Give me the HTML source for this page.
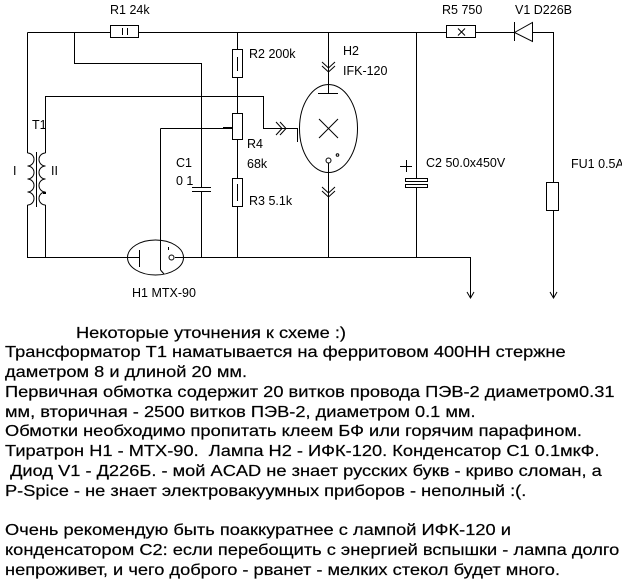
<!DOCTYPE html>
<html><head><meta charset="utf-8">
<style>
html,body{margin:0;padding:0;background:#fff;}
body{width:622px;height:586px;position:relative;overflow:hidden;}
svg{position:absolute;left:0;top:0;}
.t{position:absolute;left:5px;top:323.5px;font-family:"Liberation Sans","Noto Sans CJK SC",sans-serif;font-size:16px;line-height:19.8px;white-space:pre;color:#000;transform:scaleX(1.14);transform-origin:0 0;-webkit-text-stroke:0.2px #000;}
</style></head>
<body>
<svg width="622" height="310" viewBox="0 0 622 310" xmlns="http://www.w3.org/2000/svg">
<g fill="none" stroke="#000" stroke-width="1" shape-rendering="crispEdges">
<path d="M27.5 32.5 H110.5"/>
<rect x="110.5" y="25.5" width="28" height="12"/>
<path d="M122.5 28 V35 M127.5 28 V35"/>
<path d="M138.5 32.5 H446.5"/>
<rect x="446.5" y="25.5" width="29" height="12"/>
<path d="M475.5 32.5 H514.5"/>
<path d="M514.5 22 V41"/>
<path d="M532.5 32.5 H553.5 V182.5"/>
<rect x="546.5" y="182.5" width="12" height="28"/>
<path d="M553.5 210.5 V298"/>
<path d="M27.5 32.5 V153"/>
<path d="M27.5 205 V257.5 H139.5"/>
<path d="M139.5 250 V267"/>
<path d="M45.5 257.5 V205"/>
<path d="M45.5 153 V96.5 H263.5 V128.5 H297.5 V142"/>
<path d="M36.5 152 V207"/>
<path d="M74.5 32.5 V63.5 H201.5 V187.5"/>
<path d="M192 187.5 H211 M192 191.5 H211"/>
<path d="M201.5 191.5 V257.5"/>
<path d="M237.5 32.5 V49.5"/>
<rect x="232.5" y="49.5" width="10" height="28"/>
<path d="M237.5 57 V71"/>
<path d="M237.5 77.5 V113.5"/>
<rect x="232.5" y="113.5" width="10" height="26"/>
<path d="M237.5 139.5 V178.5"/>
<rect x="232.5" y="178.5" width="10" height="28"/>
<path d="M237.5 184 V201"/>
<path d="M237.5 206.5 V257.5"/>
<path d="M160.5 128.5 H224"/>
<path d="M160.5 128.5 V270"/>
<path d="M175 257.5 H470.5 V298"/>
<path d="M328.5 32.5 V93"/>
<path d="M318 93.5 H338"/>
<path d="M328.5 163 V257.5"/>
<path d="M416.5 32.5 V178.5"/>
<rect x="405.5" y="178.5" width="22" height="3"/>
<rect x="405.5" y="184.5" width="22" height="3"/>
<path d="M416.5 187.5 V257.5"/>
<path d="M400 166.5 H412 M406.5 160 V172"/>
<path d="M168.5 247 V250"/>
</g>
<rect x="223" y="127" width="9" height="2" fill="#000"/>
<rect x="43" y="192" width="3" height="2" fill="#000"/>
<g fill="none" stroke="#000" stroke-width="1">
<path d="M458 28.5 L465 35.5 M465 28.5 L458 35.5"/>
<path d="M514.5 32.5 L532.5 22.5 L532.5 41.5 Z"/>
<path d="M550 292 L553.5 298 L557 292"/>
<path d="M467 292 L470.5 298 L474 292"/>
<path d="M160.5 270 L164 274"/>
<path d="M27.5 153 a6.5 6.5 0 0 1 0 13 a6.5 6.5 0 0 1 0 13 a6.5 6.5 0 0 1 0 13 a6.5 6.5 0 0 1 0 13"/>
<path d="M45.5 153 a6.5 6.5 0 0 0 0 13 a6.5 6.5 0 0 0 0 13 a6.5 6.5 0 0 0 0 13 a6.5 6.5 0 0 0 0 13"/>
<ellipse cx="328.5" cy="128.5" rx="29" ry="44"/>
<path d="M319 119 L338 138 M338 119 L319 138"/>
<circle cx="328.5" cy="160.5" r="2.5"/>
<circle cx="337.5" cy="155" r="1.3"/>
<path d="M322 62 L328.5 68 L335 62 M322 66 L328.5 72 L335 66"/>
<path d="M322 187 L328.5 193 L335 187 M322 191 L328.5 197 L335 191"/>
<path d="M276 122 L282 128.5 L276 135 M280 122 L286 128.5 L280 135"/>
<ellipse cx="155.5" cy="257.5" rx="28" ry="17.5"/>
<circle cx="171.5" cy="257.5" r="2.5"/>
</g>
<g font-family="Liberation Sans, sans-serif" font-size="12.5" fill="#000">
<text x="110" y="14">R1 24k</text>
<text x="442" y="14">R5 750</text>
<text x="515" y="14">V1 D226B</text>
<text x="249" y="58">R2 200k</text>
<text x="343" y="55">H2</text>
<text x="343" y="75">IFK-120</text>
<text x="32" y="129">T1</text>
<text x="247" y="148">R4</text>
<text x="247" y="168">68k</text>
<text x="176" y="167">C1</text>
<text x="176" y="185">0 1</text>
<text x="249" y="205">R3 5.1k</text>
<text x="426" y="167">C2 50.0x450V</text>
<text x="571" y="168">FU1 0.5A</text>
<text x="13" y="175">I</text>
<text x="51" y="175">II</text>
<text x="132" y="297">H1 MTX-90</text>
</g>
</svg>
<div class="t">              Некоторые уточнения к схеме :)
Трансформатор Т1 наматывается на ферритовом 400НН стержне
даметром 8 и длиной 20 мм.
Первичная обмотка содержит 20 витков провода ПЭВ-2 диаметром0.31
мм, вторичная - 2500 витков ПЭВ-2, диаметром 0.1 мм.
Обмотки необходимо пропитать клеем БФ или горячим парафином.
Тиратрон H1 - MTX-90.  Лампа H2 - ИФК-120. Конденсатор С1 0.1мкФ.
 Диод V1 - Д226Б. - мой ACAD не знает русских букв - криво сломан, а
P-Spice - не знает электровакуумных приборов - неполный :(.

Очень рекомендую быть поаккуратнее с лампой ИФК-120 и
конденсатором С2: если перебощить с энергией вспышки - лампа долго
непроживет, и чего доброго - рванет - мелких стекол будет много.</div>
</body></html>
